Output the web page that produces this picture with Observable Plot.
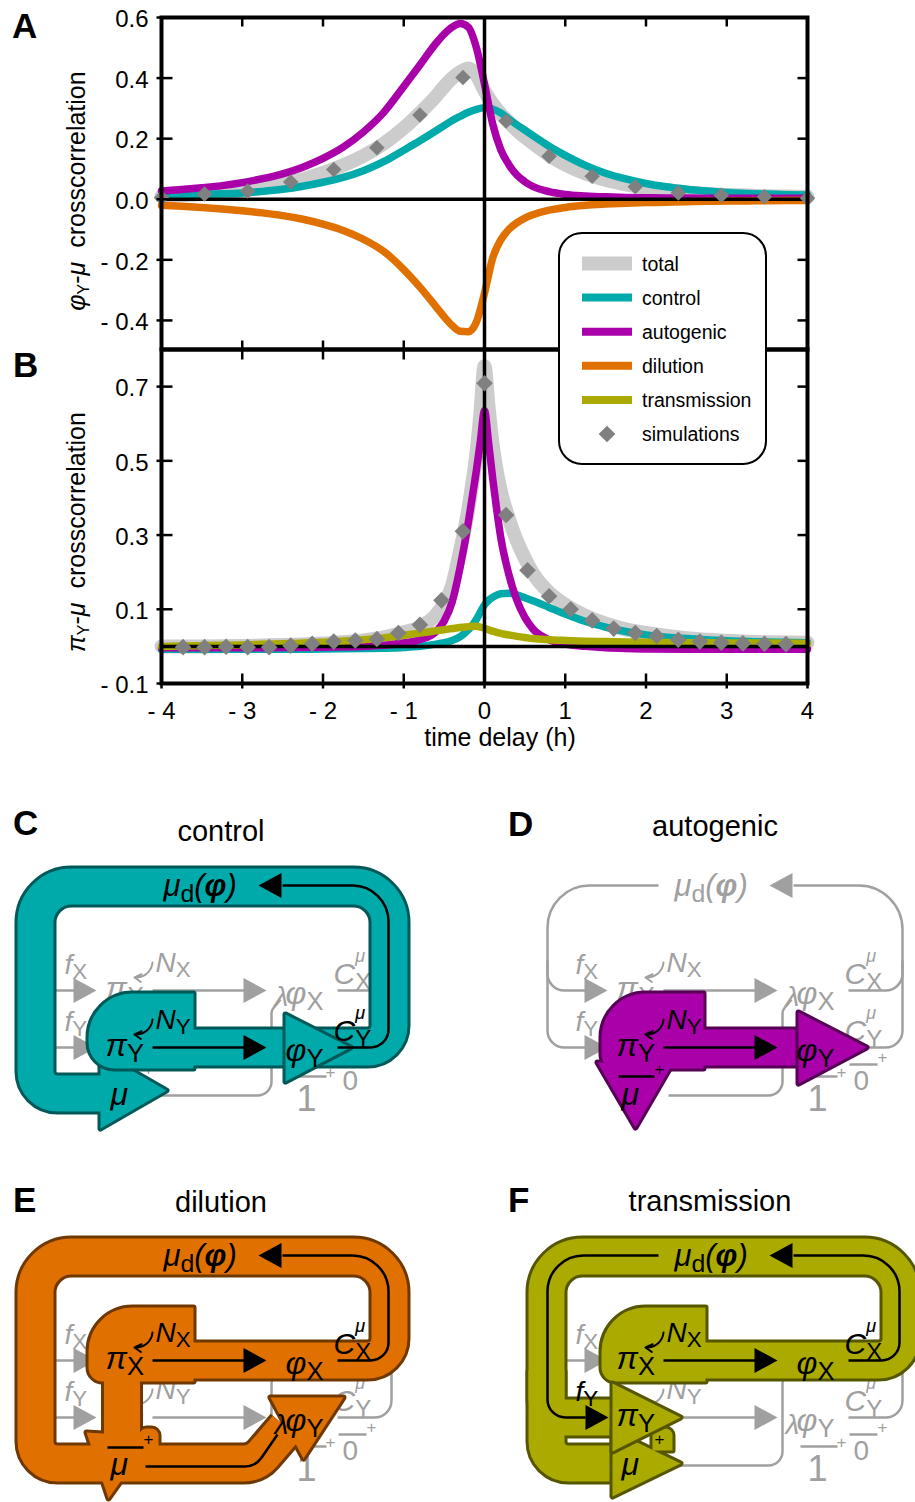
<!DOCTYPE html>
<html>
<head>
<meta charset="utf-8">
<script src="https://cdn.jsdelivr.net/npm/d3@7"></script>
<script src="https://cdn.jsdelivr.net/npm/@observablehq/plot@0.6"></script>
<style>
  html, body { margin: 0; padding: 0; background: #fff; }
  #fig { position: relative; width: 915px; height: 1502px; overflow: hidden; font-family: "Liberation Sans", Arial, sans-serif; }
</style>
</head>
<body>
<div id="fig"></div>
<script>
// ===================== DATA =====================
// Panel A: phi_Y - mu crosscorrelation
const lagA = [-4,-3.75,-3.5,-3.25,-3,-2.75,-2.5,-2.25,-2,-1.75,-1.5,-1.25,-1,-0.8,-0.6,-0.5,-0.4,-0.3,-0.2,-0.1,0,0.1,0.2,0.3,0.4,0.5,0.6,0.8,1,1.25,1.5,1.75,2,2.25,2.5,2.75,3,3.25,3.5,3.75,4];
const totalA = [0.01,0.013,0.017,0.022,0.029,0.038,0.05,0.066,0.087,0.112,0.143,0.183,0.235,0.285,0.34,0.372,0.40,0.42,0.432,0.41,0.358,0.315,0.282,0.255,0.228,0.205,0.185,0.145,0.115,0.085,0.064,0.049,0.038,0.029,0.022,0.017,0.014,0.012,0.01,0.009,0.008];
const controlA = [0.012,0.014,0.016,0.018,0.021,0.026,0.033,0.043,0.056,0.072,0.094,0.124,0.162,0.193,0.226,0.243,0.26,0.274,0.287,0.297,0.302,0.298,0.285,0.265,0.246,0.228,0.21,0.175,0.145,0.112,0.086,0.067,0.052,0.041,0.033,0.027,0.022,0.019,0.017,0.015,0.014];
const autogenicA = [0.027,0.032,0.038,0.045,0.055,0.068,0.084,0.106,0.135,0.172,0.222,0.286,0.372,0.443,0.515,0.545,0.568,0.58,0.568,0.50,0.38,0.25,0.165,0.115,0.08,0.058,0.042,0.025,0.016,0.011,0.008,0.006,0.005,0.0045,0.004,0.0035,0.003,0.003,0.003,0.003,0.003];
const dilutionA = [-0.02,-0.023,-0.027,-0.032,-0.038,-0.045,-0.054,-0.066,-0.082,-0.103,-0.132,-0.172,-0.232,-0.29,-0.355,-0.388,-0.417,-0.436,-0.437,-0.405,-0.31,-0.195,-0.135,-0.10,-0.078,-0.062,-0.051,-0.036,-0.027,-0.02,-0.016,-0.013,-0.011,-0.0095,-0.008,-0.007,-0.006,-0.0055,-0.005,-0.0045,-0.004];
const simLagA = [-4,-3.467,-2.933,-2.4,-1.867,-1.333,-0.8,-0.267,0.267,0.8,1.333,1.867,2.4,2.933,3.467,4];
const simA = [0.005,0.017,0.027,0.057,0.098,0.17,0.278,0.402,0.258,0.142,0.076,0.041,0.021,0.013,0.008,0.003];

// Panel B: pi_Y - mu crosscorrelation
const lagB = [-4,-3.5,-3,-2.5,-2,-1.5,-1.25,-1,-0.8,-0.6,-0.5,-0.4,-0.3,-0.2,-0.15,-0.1,-0.05,0,0.05,0.1,0.15,0.2,0.3,0.4,0.5,0.6,0.8,1,1.25,1.5,1.75,2,2.5,3,3.5,4];
const totalB = [0.0,0.0,0.001,0.004,0.008,0.016,0.024,0.038,0.052,0.085,0.115,0.165,0.26,0.37,0.44,0.52,0.63,0.755,0.645,0.545,0.475,0.42,0.345,0.285,0.237,0.197,0.145,0.112,0.082,0.061,0.046,0.036,0.022,0.015,0.011,0.01];
const controlB = [-0.008,-0.008,-0.008,-0.008,-0.007,-0.006,-0.005,-0.003,0.0,0.006,0.01,0.016,0.026,0.045,0.057,0.073,0.093,0.112,0.124,0.132,0.138,0.142,0.143,0.139,0.131,0.123,0.105,0.087,0.067,0.052,0.04,0.031,0.021,0.015,0.012,0.01];
const autogenicB = [-0.004,-0.004,-0.004,-0.003,-0.002,0.0,0.003,0.009,0.018,0.04,0.068,0.12,0.215,0.335,0.405,0.475,0.555,0.635,0.55,0.455,0.37,0.295,0.195,0.125,0.078,0.047,0.018,0.006,0.0,-0.004,-0.006,-0.007,-0.008,-0.008,-0.008,-0.008];
const transmissionB = [0.0,0.002,0.004,0.007,0.011,0.018,0.023,0.03,0.036,0.042,0.045,0.048,0.051,0.053,0.054,0.054,0.052,0.049,0.045,0.041,0.038,0.035,0.031,0.027,0.024,0.021,0.018,0.016,0.014,0.013,0.012,0.011,0.01,0.009,0.009,0.008];
const simLagB = [-3.733,-3.467,-3.2,-2.933,-2.667,-2.4,-2.133,-1.867,-1.6,-1.333,-1.067,-0.8,-0.533,-0.267,0,0.267,0.533,0.8,1.067,1.333,1.6,1.867,2.133,2.4,2.667,2.933,3.2,3.467,3.733];
const simB = [-0.002,-0.002,-0.001,-0.002,-0.002,0.002,0.007,0.013,0.016,0.02,0.036,0.058,0.124,0.31,0.709,0.354,0.205,0.135,0.1,0.07,0.048,0.036,0.028,0.018,0.013,0.01,0.008,0.007,0.006];

// tick values
const xTicks = [-4,-3,-2,-1,0,1,2,3,4];
const yTicksA = [0.6,0.4,0.2,0,-0.2,-0.4];
const yTicksB = [0.7,0.5,0.3,0.1,-0.1];

// legend
const legendLabels = ["total","control","autogenic","dilution","transmission","simulations"];

// colours
const FONT = '"Liberation Sans", Arial, Helvetica, sans-serif';
const C_TOTAL = "#cccccc", C_CONTROL = "#00aaaa", C_AUTO = "#aa00aa", C_DIL = "#e07000", C_TRANS = "#aaaa00", C_SIM = "#808080";
const GRAY = "#a0a0a0";

// ===================== HELPERS =====================
const fig = document.getElementById("fig");
const series = (lags, vals) => lags.map((t, i) => ({t, v: vals[i]}));
const fmt = (d, k) => d < 0 ? "- " + Math.abs(d).toFixed(k) : d.toFixed(k);
const tickSym = (x1, y1, x2, y2) => ({draw(ctx) { ctx.moveTo(x1, y1); ctx.lineTo(x2, y2); }});
const lineOpts = (color, w) => ({x: "t", y: "v", stroke: color, strokeWidth: w, curve: "monotone-x"});

// custom curve: straight segments with rounded (arcTo) corners
function roundCurve(radii, closed = false) {
  const R = i => Array.isArray(radii) ? (radii[i] || 0) : (radii || 0);
  return function (context) {
    let pts = [];
    return {
      areaStart() {}, areaEnd() {},
      lineStart() { pts = []; },
      point(x, y) { pts.push([+x, +y]); },
      lineEnd() {
        const n = pts.length;
        if (!n) return;
        if (closed) {
          const a = pts[n - 1], b = pts[0];
          context.moveTo((a[0] + b[0]) / 2, (a[1] + b[1]) / 2);
          for (let i = 0; i < n; i++) {
            const p = pts[i], q = pts[(i + 1) % n];
            context.arcTo(p[0], p[1], q[0], q[1], R(i));
          }
          context.closePath();
        } else {
          context.moveTo(pts[0][0], pts[0][1]);
          for (let i = 1; i < n - 1; i++) context.arcTo(pts[i][0], pts[i][1], pts[i + 1][0], pts[i + 1][1], R(i - 1));
          context.lineTo(pts[n - 1][0], pts[n - 1][1]);
        }
      }
    };
  };
}

// rich text: _X subscript, ^X superscript (stacked after a subscript), *X bold
function richify(el) {
  const src = el.textContent;
  if (!/[_^*]/.test(src)) return;
  const base = parseFloat(getComputedStyle(el).fontSize) || 16;
  const NS = "http://www.w3.org/2000/svg";
  el.textContent = "";
  let shift = 0, i = 0, prevSub = null;
  const mk = (str, attrs) => {
    const t = document.createElementNS(NS, "tspan");
    t.textContent = str;
    for (const k in attrs) t.setAttribute(k, attrs[k]);
    el.appendChild(t);
    return t;
  };
  while (i < src.length) {
    const c = src[i];
    if (c === "_") {
      const target = base * 0.2;
      prevSub = mk(src[i + 1], {"font-size": base * 0.8, "font-style": "normal", dy: target - shift});
      shift = target; i += 2;
    } else if (c === "^") {
      const target = -base * 0.72;
      const attrs = {"font-size": base * 0.6, dy: target - shift};
      if (prevSub) attrs.dx = -prevSub.getComputedTextLength();
      mk(src[i + 1], attrs); shift = target; prevSub = null; i += 2;
    } else if (c === "*") {
      mk(src[i + 1], {"font-weight": "bold", dy: -shift}); shift = 0; prevSub = null; i += 2;
    } else {
      let j = i; while (j < src.length && !"_^*".includes(src[j])) j++;
      mk(src.slice(i, j), {dy: -shift}); shift = 0; prevSub = null; i = j;
    }
  }
}

function place(svg, left, top) {
  svg.style.position = "absolute";
  svg.style.left = left + "px";
  svg.style.top = top + "px";
  fig.appendChild(svg);
}

// ===================== PANEL A =====================
const yMinA = -0.496;
const plotA = Plot.plot({
  width: 915, height: 360, marginLeft: 161, marginRight: 108, marginTop: 17, marginBottom: 11,
  x: {domain: [-4, 4], axis: null},
  y: {domain: [yMinA, 0.6], axis: null},
  style: {background: "transparent", overflow: "visible", fontFamily: FONT},
  marks: [
    Plot.line(series(lagA, totalA), lineOpts(C_TOTAL, 14)),
    Plot.line(series(lagA, controlA), lineOpts(C_CONTROL, 7.5)),
    Plot.line(series(lagA, autogenicA), lineOpts(C_AUTO, 7.5)),
    Plot.line(series(lagA, dilutionA), lineOpts(C_DIL, 7.5)),
    Plot.ruleY([0], {stroke: "black", strokeWidth: 3.5}),
    Plot.ruleX([0], {stroke: "black", strokeWidth: 3.5}),
    Plot.dot(series(simLagA, simA), {x: "t", y: "v", symbol: "diamond2", r: 7, fill: C_SIM, stroke: "none"}),
    Plot.frame({stroke: "black", strokeWidth: 4}),
    Plot.dot(xTicks.filter(d => Math.abs(d) < 4 && d !== 0), {x: d => d, y: 0.6, symbol: tickSym(0, 0, 0, 9), stroke: "black", strokeWidth: 2.5, fill: "none"}),
    Plot.dot(xTicks.filter(d => Math.abs(d) < 4 && d !== 0), {x: d => d, y: yMinA, symbol: tickSym(0, 0, 0, -9), stroke: "black", strokeWidth: 2.5, fill: "none"}),
    Plot.dot(yTicksA, {x: -4, y: d => d, symbol: tickSym(-5, 0, 11, 0), stroke: "black", strokeWidth: 2.5, fill: "none"}),
    Plot.dot(yTicksA.filter(d => d !== 0 && d !== 0.6), {x: 4, y: d => d, symbol: tickSym(0, 0, -10, 0), stroke: "black", strokeWidth: 2.5, fill: "none"}),
    Plot.text(yTicksA, {x: -4, y: d => d, text: d => fmt(d, 1), textAnchor: "end", dx: -13, dy: 2, fontSize: 24, fill: "black"})
  ]
});
place(plotA, 0, 0);

// ===================== PANEL B =====================
const plotB = Plot.plot({
  width: 915, height: 420, marginLeft: 161, marginRight: 108, marginTop: 9, marginBottom: 77,
  x: {domain: [-4, 4], axis: null},
  y: {domain: [-0.1, 0.8], axis: null},
  style: {background: "transparent", overflow: "visible", fontFamily: FONT},
  marks: [
    Plot.line(series(lagB, totalB), lineOpts(C_TOTAL, 14)),
    Plot.line(series(lagB, controlB), lineOpts(C_CONTROL, 7.5)),
    Plot.line(series(lagB, autogenicB), lineOpts(C_AUTO, 7.5)),
    Plot.line(series(lagB, transmissionB), lineOpts(C_TRANS, 7.5)),
    Plot.ruleY([0], {stroke: "black", strokeWidth: 3.5}),
    Plot.ruleX([0], {stroke: "black", strokeWidth: 3.5}),
    Plot.dot(series(simLagB, simB), {x: "t", y: "v", symbol: "diamond2", r: 7.5, fill: C_SIM, stroke: "none"}),
    Plot.frame({stroke: "black", strokeWidth: 4}),
    Plot.dot(xTicks.filter(d => Math.abs(d) < 4 && d !== 0), {x: d => d, y: 0.8, symbol: tickSym(0, 0, 0, 10), stroke: "black", strokeWidth: 2.5, fill: "none"}),
    Plot.dot(xTicks, {x: d => d, y: -0.1, symbol: tickSym(0, 5, 0, -10), stroke: "black", strokeWidth: 2.5, fill: "none"}),
    Plot.dot(yTicksB, {x: -4, y: d => d, symbol: tickSym(-5, 0, 11, 0), stroke: "black", strokeWidth: 2.5, fill: "none"}),
    Plot.dot(yTicksB.filter(d => d > 0), {x: 4, y: d => d, symbol: tickSym(0, 0, -10, 0), stroke: "black", strokeWidth: 2.5, fill: "none"}),
    Plot.text(yTicksB, {x: -4, y: d => d, text: d => fmt(d, 1), textAnchor: "end", dx: -13, dy: 2, fontSize: 24, fill: "black"}),
    Plot.text(xTicks, {x: d => d, y: -0.1, text: d => fmt(d, 0), dy: 28, fontSize: 24, fill: "black"})
  ]
});
place(plotB, 0, 340);

// ===================== DIAGRAMS (C-F) =====================
// Grey network, coordinates in the frame of panel C (px)
const netPaths = [
  {pts: [[282,885],[391,885],[391,1047],[337,1047]], r: [44,17]},
  {pts: [[337,990],[391,990],[391,960]], r: [17]},
  {pts: [[147,885],[36,885],[36,1047],[74,1047]], r: [42,17]},
  {pts: [[36,960],[36,990],[74,990]], r: [17]},
  {pts: [[152,990],[244,990]]},
  {pts: [[152,1047],[244,1047]]},
  {pts: [[157,1095],[271,1095],[271,1010],[280,999]], r: [14,8]},
  {pts: [[289,1076],[326,1076]]},
  {pts: [[338,1064],[366,1064]]},
  {pts: [[107,1076],[143,1076]]}
];
const netArrows = [{x:96,y:990,d:1},{x:96,y:1047,d:1},{x:266,y:990,d:1},{x:266,y:1047,d:1},{x:258,y:885,d:-1}];
const bendSpec = {NX: {x1:152,y1:962,x2:134,y2:977}, NY: {x1:152,y1:1019,x2:134,y2:1034}};
const labelSpec = {
  fX:   {x: 64,  y: 973,  t: "f_X",  s: 28},
  fY:   {x: 64,  y: 1030, t: "f_Y",  s: 28},
  NX:   {x: 155, y: 971,  t: "N_X",  s: 28},
  NY:   {x: 155, y: 1028, t: "N_Y",  s: 28},
  piX:  {x: 105, y: 998,  t: "π_X",  s: 32},
  piY:  {x: 105, y: 1055, t: "π_Y",  s: 32},
  phiX: {x: 285, y: 1003, t: "φ_X",  s: 32},
  phiY: {x: 285, y: 1060, t: "φ_Y",  s: 32},
  CX:   {x: 333, y: 983,  t: "C_X^μ", s: 30},
  CY:   {x: 333, y: 1040, t: "C_Y^μ", s: 30},
  mu:   {x: 110, y: 1104, t: "μ",    s: 32},
  mud:  {x: 163, y: 895,  t: "μ_d(*φ)", s: 31},
  lamX: {x: 274, y: 1005, t: "λ", s: 28},
  lamY: {x: 274, y: 1063, t: "λ", s: 28},
  one:  {x: 296, y: 1110, t: "1", s: 36, up: true},
  zero: {x: 342, y: 1089, t: "0", s: 28, up: true},
  plusA:{x: 325, y: 1077, t: "+", s: 17, up: true},
  plusB:{x: 366, y: 1062, t: "+", s: 17, up: true},
  plusMu:{x: 143, y: 1074, t: "+", s: 17, up: true}
};
const netLabels = ["fX","fY","NX","NY","piX","piY","phiX","phiY","CX","CY","mu","mud","lamX","one","zero","plusA","plusB","plusMu"];

const panels = [
  { off: [0, 0], fill: C_CONTROL, dark: "#005858", grayExtra: [],
    layers: [
      {bands: [{pts: [[300,1047],[389,1047],[389,886],[35,886],[35,1093],[104,1093]], r: [22,36,36,22]}],
       polys: [{pts: [[100,1052],[166,1090],[100,1128]]}]},
      {bands: [{pts: [[150,1047],[300,1047]]}],
       polys: [{pts: [[193,993],[193,1068],[88,1068],[88,993]], r: [0,0,26,44]}]},
      {polys: [{pts: [[285,1014],[350,1047],[285,1081]]}]}
    ],
    black: {paths: [{pts: [[337,1047],[388,1047],[388,885],[282,885]], r: [18,36]}, {pts: [[152,1047],[244,1047]]}],
            arrows: [{x:258,y:885,d:-1},{x:266,y:1047,d:1}], bends: ["NY"],
            labels: ["mud","piY","NY","phiY","CY","mu"]}
  },
  { off: [511, 0], fill: C_AUTO, dark: "#560056", grayExtra: [],
    layers: [
      {bands: [{pts: [[150,1047],[292,1047]]}],
       polys: [{pts: [[192,993],[192,1068],[90,1068],[90,993]], r: [0,0,14,44]},
               {pts: [[86,1062],[124,1127],[160,1065]]}]},
      {polys: [{pts: [[287,1012],[355,1047],[287,1083]]}]}
    ],
    black: {paths: [{pts: [[152,1047],[244,1047]]}, {pts: [[107,1076],[143,1076]]}],
            arrows: [{x:266,y:1047,d:1}], bends: ["NY"],
            labels: ["piY","NY","phiY","mu","plusMu"]}
  },
  { off: [0, 370], fill: C_DIL, dark: "#6e3800", grayExtra: ["lamY"],
    layers: [
      {bands: [{pts: [[150,990],[389,990],[389,886],[35,886],[35,1093],[255,1093],[286,1057]], r: [22,36,36,22,26]},
               {pts: [[121.5,995],[121.5,1075]]}],
       polys: [{pts: [[193,937],[193,1011],[88,1011],[88,937]], r: [0,0,14,44]},
               {pts: [[86,1062],[108,1128],[152,1066]]},
               {pts: [[139,1058],[158,1058],[158,1080],[139,1080]], r: [7,7,0,0]},
               {pts: [[270,1027],[343,1027],[303,1088]]}]}
    ],
    black: {paths: [{pts: [[337,990],[388,990],[388,885],[282,885]], r: [18,36]}, {pts: [[152,990],[244,990]]},
                    {pts: [[145,1096],[255,1096],[277,1064]], r: [20]}, {pts: [[107,1077],[143,1077]]}],
            arrows: [{x:258,y:885,d:-1},{x:266,y:990,d:1}], bends: ["NX"],
            labels: ["mud","piX","NX","phiX","CX","mu","lamY","phiY","plusMu"]}
  },
  { off: [511, 370], fill: C_TRANS, dark: "#565600", grayExtra: ["lamY"],
    layers: [
      {bands: [{pts: [[150,990],[389,990],[389,886],[35,886],[35,1093],[103,1093]], r: [22,36,36,22]},
               {pts: [[35,1000],[35,1047],[103,1047]], r: [18]}],
       polys: [{pts: [[194,937],[194,1011],[90,1011],[90,937]], r: [0,0,14,44]}]},
      {polys: [{pts: [[101,1060],[169,1093],[101,1126]]},
               {pts: [[141,1058],[161,1058],[161,1080],[141,1080]], r: [7,7,0,0]}]},
      {polys: [{pts: [[101,1013],[169,1047],[101,1081]]}]}
    ],
    black: {paths: [{pts: [[337,990],[388,990],[388,885],[282,885]], r: [18,36]},
                    {pts: [[147,885],[36,885],[36,1047],[74,1047]], r: [36,18]}, {pts: [[152,990],[244,990]]}],
            arrows: [{x:258,y:885,d:-1},{x:266,y:990,d:1},{x:97,y:1047,d:1}], bends: ["NX"],
            labels: ["mud","piX","NX","phiX","CX","fY","piY","mu","plusMu"]}
  }
];

function triRows(arrows, ox, oy, len = 23, half = 12.5) {
  return arrows.flatMap((a, k) => {
    const bx = a.x - a.d * len;
    return [[a.x, a.y], [bx, a.y - half], [bx, a.y + half]].map(([x, y]) => ({k, x: x + ox, y: y + oy}));
  });
}

function diagramMarks(p) {
  const [ox, oy] = p.off;
  const T = pts => pts.map(([x, y]) => ({x: x + ox, y: y + oy}));
  const m = [];
  const pathMark = (g, color, w) => Plot.line(T(g.pts), {x: "x", y: "y", curve: roundCurve(g.r || 0), stroke: color, strokeWidth: w, strokeLinecap: "butt", fill: "none"});
  const polyMark = (q, fill, stroke, sw) => Plot.line(T(q.pts), {x: "x", y: "y", curve: roundCurve(q.r || 0, true), fill, stroke, strokeWidth: sw, strokeLinejoin: "round"});
  const labelMark = (key, color) => {
    const L = labelSpec[key];
    return Plot.text([L], {x: d => d.x + ox, y: d => d.y + oy - 0.32 * d.s, text: "t", fontSize: L.s, fill: color,
      textAnchor: "start", fontStyle: L.up ? "normal" : "italic", fontFamily: FONT});
  };
  const arrowMark = (arr, color) => Plot.line(triRows(arr, ox, oy), {x: "x", y: "y", z: "k", fill: color, stroke: "none", curve: "linear-closed"});
  const bendMark = (keys, color) => Plot.arrow(keys.map(k => bendSpec[k]), {x1: d => d.x1 + ox, y1: d => d.y1 + oy, x2: d => d.x2 + ox, y2: d => d.y2 + oy,
      bend: 45, headLength: 8, stroke: color, strokeWidth: 2});
  // grey network
  netPaths.forEach(g => m.push(pathMark(g, GRAY, 2.5)));
  m.push(arrowMark(netArrows, GRAY), bendMark(["NX", "NY"], GRAY));
  netLabels.concat(p.grayExtra).forEach(k => m.push(labelMark(k, GRAY)));
  // highlighted pathway
  for (const layer of p.layers) {
    const bands = layer.bands || [], polys = layer.polys || [];
    bands.forEach(b => m.push(pathMark(b, p.dark, 42)));
    polys.forEach(q => m.push(polyMark(q, p.dark, p.dark, 6)));
    bands.forEach(b => m.push(pathMark(b, p.fill, 36)));
    polys.forEach(q => m.push(polyMark(q, p.fill, "none", 0)));
  }
  // black elements
  p.black.paths.forEach(g => m.push(pathMark(g, "black", 2.5)));
  m.push(arrowMark(p.black.arrows, "black"));
  m.push(bendMark(p.black.bends, "black"));
  p.black.labels.forEach(k => m.push(labelMark(k, "black")));
  return m;
}

const diag = Plot.plot({
  width: 915, height: 732, margin: 0,
  x: {domain: [0, 915], axis: null},
  y: {domain: [1502, 770], axis: null},
  style: {background: "transparent", overflow: "visible", fontFamily: FONT},
  marks: panels.flatMap(diagramMarks)
});
place(diag, 0, 770);
diag.querySelectorAll("text").forEach(richify);

// ===================== TEXT OVERLAY =====================
const ov = d3.select(fig).append("svg").attr("width", 915).attr("height", 1502)
  .style("position", "absolute").style("left", "0px").style("top", "0px")
  .attr("font-family", FONT);

const panelLetters = [{l:"A",x:12,y:38},{l:"B",x:13,y:377},{l:"C",x:13,y:835},{l:"D",x:508,y:836},{l:"E",x:13,y:1212},{l:"F",x:508,y:1212}];
ov.selectAll("text.letter").data(panelLetters).join("text").attr("class", "letter")
  .attr("x", d => d.x).attr("y", d => d.y).attr("font-size", 35).attr("font-weight", "bold").text(d => d.l);

const titles = [{t:"control",x:221,y:841},{t:"autogenic",x:715,y:836},{t:"dilution",x:221,y:1212},{t:"transmission",x:710,y:1211}];
ov.selectAll("text.title").data(titles).join("text").attr("class", "title")
  .attr("x", d => d.x).attr("y", d => d.y).attr("font-size", 29).attr("text-anchor", "middle").text(d => d.t);

function yLabel(cx, cy, sym) {
  const t = ov.append("text").attr("transform", `translate(${cx},${cy}) rotate(-90)`).attr("text-anchor", "middle").attr("font-size", 25);
  t.append("tspan").attr("font-style", "italic").text(sym);
  t.append("tspan").attr("font-size", 16).attr("dy", 4).text("Y");
  t.append("tspan").attr("dy", -4).text("-");
  t.append("tspan").attr("font-style", "italic").text("μ");
  t.append("tspan").text("\u00a0\u00a0crosscorrelation");
}
yLabel(85, 191, "φ");
yLabel(85, 532, "π");
ov.append("text").attr("x", 500).attr("y", 746).attr("text-anchor", "middle").attr("font-size", 25).text("time delay (h)");

// ===================== LEGEND =====================
const legendColors = [C_TOTAL, C_CONTROL, C_AUTO, C_DIL, C_TRANS, C_SIM];
const legendWidths = [14, 8, 8, 8, 8, 0];
const leg = d3.select(fig).append("div")
  .style("position", "absolute").style("left", "558px").style("top", "232px")
  .style("width", "209px").style("height", "233px").style("box-sizing", "border-box")
  .style("border", "2.5px solid #000").style("border-radius", "24px").style("background", "#fff");
const ls = leg.append("svg").attr("width", 209).attr("height", 233)
  .style("position", "absolute").style("left", "-2.5px").style("top", "-2.5px").attr("font-family", FONT);
legendLabels.forEach((lab, i) => {
  const cy = 31.5 + i * 34.1;
  if (legendWidths[i] > 0) {
    ls.append("line").attr("x1", 24).attr("x2", 74).attr("y1", cy).attr("y2", cy)
      .attr("stroke", legendColors[i]).attr("stroke-width", legendWidths[i]);
  } else {
    ls.append("path").attr("transform", `translate(49,${cy})`)
      .attr("d", d3.symbol(d3.symbolDiamond2, Math.PI * 7.5 * 7.5)()).attr("fill", legendColors[i]);
  }
  ls.append("text").attr("x", 84).attr("y", cy + 7).attr("font-size", 19.5).text(lab);
});
</script>
</body>
</html>
